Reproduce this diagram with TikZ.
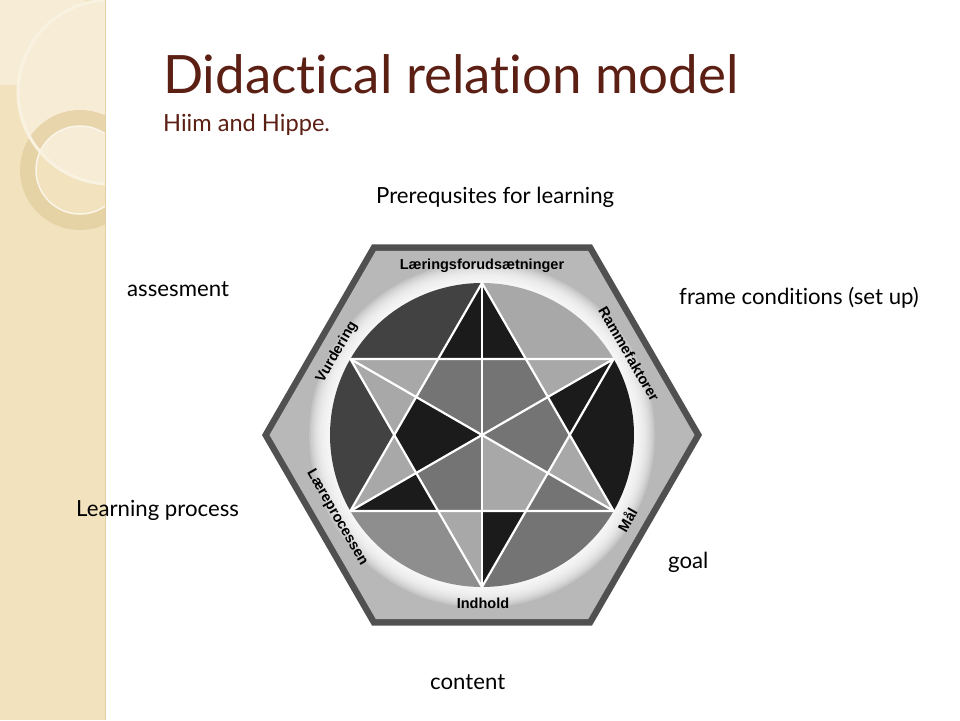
\documentclass[tikz,border=0pt]{standalone}
\usepackage{fontspec}
\setmainfont{Lato}[Ligatures=NoCommon]
\newfontfamily\hexfont{Liberation Sans}
\usetikzlibrary{calc}
\definecolor{titlebrown}{HTML}{5C1F14}
\definecolor{stripbeige}{HTML}{F2E2BD}
\definecolor{stripLight}{HTML}{F7EDD6}
\definecolor{ringbeige}{HTML}{E3CE9E}
\definecolor{stripedge}{HTML}{E2CFA2}
\definecolor{hexborder}{HTML}{505050}
\definecolor{hexring}{HTML}{B8B8B8}
\definecolor{gBlack}{HTML}{1B1B1B}
\definecolor{gDark}{HTML}{424242}
\definecolor{gMid}{HTML}{747474}
\definecolor{gMidLight}{HTML}{8E8E8E}
\definecolor{gLight}{HTML}{A8A8A8}
\tikzset{
  starline/.style={draw=white, line width=2.2pt, line join=round},
  hexlabel/.style={font=\hexfont\bfseries\fontsize{14.5}{16}\selectfont, text=black, inner sep=0pt},
  bodytext/.style={font=\fontsize{22.2}{26}\selectfont, text=black, inner sep=0pt, anchor=base west},
}
\begin{document}
\begin{tikzpicture}[x=1pt,y=1pt]
\useasboundingbox (0,0) rectangle (960,720);
\fill[white] (0,0) rectangle (960,720);
% decorative strip
\begin{scope}
  \clip (0,0) rectangle (105,720);
  \fill[stripbeige] (0,0) rectangle (105,720);
  \fill[stripLight] (0,635) rectangle (85,720);
  \fill[stripLight] (110,628) circle (92);
  \draw[ringbeige, line width=16pt, opacity=0.75] (80,550) circle (52);
  \draw[white!65!stripbeige, line width=1.5pt] (80,550) circle (44);
  \draw[white!55!stripbeige, line width=3pt] (110,628) circle (92);
\end{scope}
\draw[stripedge, line width=1.2pt] (105.4,0) -- (105.4,720);
% title
\node[anchor=base west, inner sep=0pt, text=titlebrown, font=\fontsize{52.9}{58}\selectfont] (title) at (163,626) {Didactical relation model};
\node[anchor=base west, inner sep=0pt, text=titlebrown, font=\fontsize{23.6}{27}\selectfont] (subtitle) at (163,588) {Hiim and Hippe.};
% hexagon model
\begin{scope}[shift={(482,285)}]
  \coordinate (O) at (0,0);
  \foreach \a in {90,30,330,270,210,150} \coordinate (P\a) at (\a:152);
  \foreach \a in {0,60,120,180,240,300} \coordinate (I\a) at (\a:87.76);
  \foreach \a in {30,90,150,210,270,330} \coordinate (M\a) at (\a:76);
  \fill[hexborder] (0:220) -- (60:220) -- (120:220) -- (180:220) -- (240:220) -- (300:220) -- cycle;
  \begin{scope}
    \clip (0:212.5) -- (60:212.5) -- (120:212.5) -- (180:212.5) -- (240:212.5) -- (300:212.5) -- cycle;
    \fill[hexring] (-230,-230) rectangle (230,230);
    \foreach \i in {0,...,11} \fill[white, opacity=0.18] (O) circle ({153+1.8*\i});
  \end{scope}
  % outer segments
  \foreach \a/\c in {60/gLight,120/gDark,180/gDark,240/gMidLight,300/gMid,0/gBlack}
    \fill[\c] ({\a-30}:152) arc[start angle=\a-30, end angle=\a+30, radius=152] -- (\a:87.76) -- cycle;
  % star point halves
  \fill[gBlack] (P90) -- (I120) -- (M90) -- cycle;
  \fill[gBlack] (P90) -- (M90) -- (I60) -- cycle;
  \fill[gLight] (P30) -- (I60) -- (M30) -- cycle;
  \fill[gBlack] (P30) -- (M30) -- (I0) -- cycle;
  \fill[gLight] (P330) -- (I0) -- (M330) -- cycle;
  \fill[gMid] (P330) -- (M330) -- (I300) -- cycle;
  \fill[gBlack] (P270) -- (I300) -- (M270) -- cycle;
  \fill[gLight] (P270) -- (M270) -- (I240) -- cycle;
  \fill[gBlack] (P210) -- (I240) -- (M210) -- cycle;
  \fill[gLight] (P210) -- (M210) -- (I180) -- cycle;
  \fill[gLight] (P150) -- (I180) -- (M150) -- cycle;
  \fill[gLight] (P150) -- (M150) -- (I120) -- cycle;
  % inner kites
  \fill[gMid] (O) -- (M330) -- (I0) -- (M30) -- cycle;
  \fill[gMid] (O) -- (M30) -- (I60) -- (M90) -- cycle;
  \fill[gMid] (O) -- (M90) -- (I120) -- (M150) -- cycle;
  \fill[gBlack] (O) -- (M150) -- (I180) -- (M210) -- cycle;
  \fill[gMid] (O) -- (M210) -- (I240) -- (M270) -- cycle;
  \fill[gLight] (O) -- (M270) -- (I300) -- (M330) -- cycle;
  % star lines
  \draw[starline] (P90) -- (P210) -- (P330) -- cycle;
  \draw[starline] (P150) -- (P30) -- (P270) -- cycle;
  \draw[starline] (P90) -- (P270);
  \draw[starline] (P30) -- (P210);
  \draw[starline] (P150) -- (P330);
  % ring labels
  \node[hexlabel] (lf) at (0,169) {Læringsforudsætninger};
  \node[hexlabel, rotate=-60] (rf) at (147,81) {Rammefaktorer};
  \node[hexlabel, rotate=60] (ml) at (145,-85) {Mål};
  \node[hexlabel] (ih) at (1,-168) {Indhold};
  \node[hexlabel, rotate=-60] (lp) at (-145,-83) {Læreprocessen};
  \node[hexlabel, rotate=60] (vd) at (-145,83) {Vurdering};
\end{scope}
% English labels
\node[bodytext] (prereq) at (376,516) {Prerequsites for learning};
\node[bodytext] (assess) at (127,423) {assesment};
\node[bodytext] (frame) at (679,415) {frame conditions (set up)};
\node[bodytext] (learn) at (76,203) {Learning process};
\node[bodytext] (goal) at (668,152) {goal};
\node[bodytext] (content) at (430,31) {content};
\end{tikzpicture}
\end{document}
